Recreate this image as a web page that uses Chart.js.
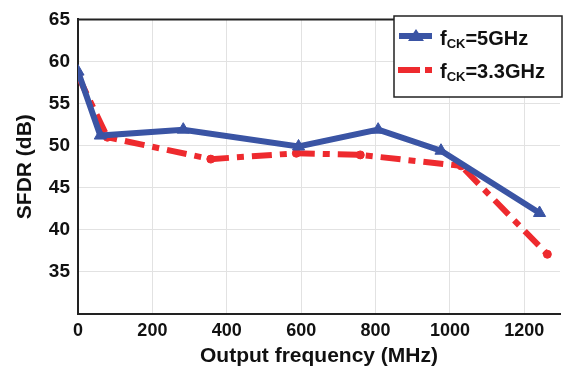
<!DOCTYPE html>
<html>
<head>
<meta charset="utf-8">
<script src="https://cdn.jsdelivr.net/npm/chart.js@4"></script>
<style>
html,body{margin:0;padding:0;background:#fff;}
#c{display:block;}
</style>
</head>
<body>
<canvas id="c" width="568" height="369"></canvas>
<script>
// Data
const freq5 = [0, 60, 283, 593, 807, 976, 1241];
const sfdr5 = [58.8, 51.2, 51.9, 49.9, 51.9, 49.4, 42.0];
const freq33 = [0, 79, 357, 587, 759, 1030, 1262];
const sfdr33 = [58.3, 51.0, 48.4, 49.1, 48.9, 47.6, 37.1];
const xTicks = [0, 200, 400, 600, 800, 1000, 1200];
const yTicks = [35, 40, 45, 50, 55, 60, 65];
const legendLabels = [["f", "CK", "=5GHz"], ["f", "CK", "=3.3GHz"]];

const BLUE = '#3a54a4';
const RED = '#ee2a2e';
const FONT = "'Liberation Sans', Arial, sans-serif";

const pts = (xs, ys) => xs.map((x, i) => ({x: x, y: ys[i]}));

const framePlugin = {
  id: 'frame',
  afterDraw(chart) {
    const {ctx, chartArea: a} = chart;
    ctx.save();
    ctx.strokeStyle = '#222';
    ctx.lineWidth = 2;
    ctx.beginPath();
    ctx.moveTo(a.left, a.top);
    ctx.lineTo(a.right, a.top);
    ctx.stroke();
    // legend
    const lx = 394, ly = 16, lw = 168, lh = 81;
    ctx.fillStyle = '#fff';
    ctx.fillRect(lx, ly, lw, lh);
    ctx.strokeStyle = '#222';
    ctx.lineWidth = 1.5;
    ctx.strokeRect(lx, ly, lw, lh);
    // blue sample
    ctx.strokeStyle = BLUE;
    ctx.lineWidth = 6;
    ctx.setLineDash([]);
    ctx.beginPath(); ctx.moveTo(399, 36); ctx.lineTo(432, 36); ctx.stroke();
    ctx.fillStyle = BLUE;
    ctx.beginPath(); ctx.moveTo(416, 29); ctx.lineTo(424, 41); ctx.lineTo(408, 41); ctx.closePath(); ctx.fill();
    // red sample
    ctx.strokeStyle = RED;
    ctx.lineCap = 'butt';
    ctx.beginPath(); ctx.moveTo(398, 70); ctx.lineTo(420, 70); ctx.stroke();
    ctx.beginPath(); ctx.moveTo(425, 70); ctx.lineTo(432, 70); ctx.stroke();
    // texts
    ctx.fillStyle = '#111';
    ctx.textBaseline = 'alphabetic';
    const rows = [45, 78];
    legendLabels.forEach((lab, i) => {
      let x = 440;
      const y = rows[i];
      ctx.font = 'bold 20px ' + FONT;
      ctx.fillText(lab[0], x, y);
      x += ctx.measureText(lab[0]).width;
      ctx.font = 'bold 13px ' + FONT;
      ctx.fillText(lab[1], x, y + 3);
      x += ctx.measureText(lab[1]).width;
      ctx.font = 'bold 20px ' + FONT;
      ctx.fillText(lab[2], x, y);
    });
    ctx.restore();
  }
};

new Chart(document.getElementById('c'), {
  type: 'scatter',
  data: {
    datasets: [
      {
        label: 'fCK=5GHz',
        data: pts(freq5, sfdr5),
        showLine: true,
        borderColor: BLUE,
        backgroundColor: BLUE,
        borderWidth: 6,
        pointStyle: 'triangle',
        pointRadius: 7,
        pointBorderWidth: 1,
        tension: 0
      },
      {
        label: 'fCK=3.3GHz',
        data: pts(freq33, sfdr33),
        showLine: true,
        borderColor: RED,
        backgroundColor: RED,
        borderWidth: 6,
        borderDash: [20, 8, 7, 8],
        pointStyle: 'circle',
        pointRadius: 4,
        pointBorderWidth: 1,
        tension: 0
      }
    ]
  },
  options: {
    responsive: false,
    animation: false,
    layout: {padding: {top: 16, right: 0, left: 0, bottom: 0}},
    plugins: {legend: {display: false}, tooltip: {enabled: false}},
    scales: {
      x: {
        type: 'linear',
        min: 0, max: 1296,
        afterBuildTicks(s) { s.ticks = xTicks.map(v => ({value: v})); },
        afterFit(s) { s.height = 55; },
        grid: {color: '#e2e2e2', lineWidth: 1, drawTicks: false},
        border: {color: '#222', width: 2},
        ticks: {color: '#111', padding: 6, callback: (v) => String(v), font: {family: FONT, size: 18, weight: 'bold'}, maxRotation: 0},
        title: {display: true, text: 'Output frequency (MHz)', color: '#111', padding: {top: 0, bottom: 0}, font: {family: FONT, size: 21, weight: 'bold'}}
      },
      y: {
        min: 30, max: 65,
        afterBuildTicks(s) { s.ticks = [30].concat(yTicks).map(v => ({value: v})); },
        afterFit(s) { s.width = 78; },
        grid: {color: (c) => (c.tick && c.tick.value === 30) ? 'rgba(0,0,0,0)' : '#e2e2e2', lineWidth: 1, drawTicks: false},
        border: {color: '#222', width: 2},
        ticks: {color: '#111', padding: 8, callback: (v) => v === 30 ? '' : String(v), font: {family: FONT, size: 19, weight: 'bold'}},
        title: {display: true, text: 'SFDR (dB)', color: '#111', padding: {top: 13, bottom: 0}, font: {family: FONT, size: 21, weight: 'bold'}}
      }
    }
  },
  plugins: [framePlugin]
});
</script>
</body>
</html>
